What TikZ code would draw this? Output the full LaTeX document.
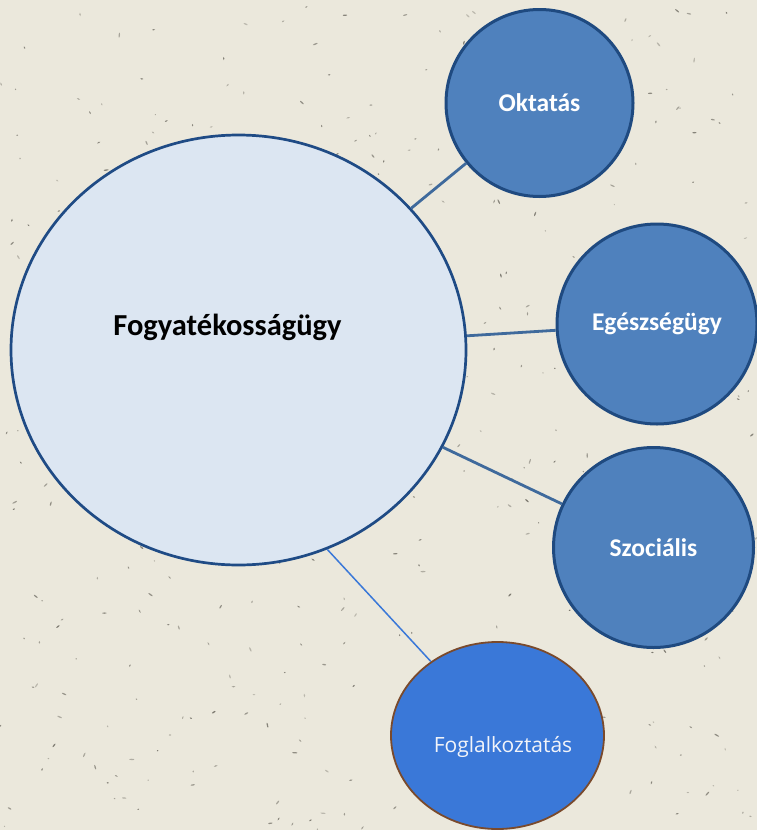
\documentclass[tikz,border=0pt]{standalone}
\usepackage{fontspec}
\setmainfont{Carlito}
\newfontfamily\fogfont{Open Sans}
\usetikzlibrary{shapes.geometric}
\definecolor{bg}{HTML}{EBE8DC}
\definecolor{bigfill}{HTML}{DCE6F2}
\definecolor{bigline}{HTML}{1F4B85}
\definecolor{smallfill}{HTML}{4F81BD}
\definecolor{smallline}{HTML}{1F4A80}
\definecolor{conn}{HTML}{3F6A9C}
\definecolor{fogfill}{HTML}{3A78D8}
\definecolor{fogline}{HTML}{7A4A2C}
\definecolor{foglink}{HTML}{3A78D8}
\definecolor{fogtext}{HTML}{F2F4F9}
\definecolor{speck}{HTML}{6E6B62}
\tikzset{
  bigcirc/.style={ellipse, draw=bigline, fill=bigfill, line width=2.7pt, inner sep=0pt, minimum width=455pt, minimum height=430pt},
  smallcirc/.style={circle, draw=smallline, fill=smallfill, line width=3pt, inner sep=0pt, minimum size=#1, text=white, font=\fontsize{25.5}{28}\selectfont\bfseries},
  fogcirc/.style={ellipse, draw=fogline, fill=fogfill, line width=1.8pt, inner sep=0pt, minimum width=213pt, minimum height=187pt},
  link/.style={draw=conn, line width=2.8pt},
  thinlink/.style={draw=foglink, line width=1.5pt},
  bigtext/.style={font=\fontsize{30.5}{34}\selectfont\bfseries, text=black},
  fogtxt/.style={font=\fogfont\fontsize{21}{24}\selectfont, text=fogtext}
}
\begin{document}
\begin{tikzpicture}[x=1pt,y=-1pt]
\useasboundingbox (0,0) rectangle (757,830);
\clip (0,0) rectangle (757,830);
\fill[bg] (0,0) rectangle (757,830);
\pgfmathsetseed{11}
\foreach \i in {1,...,450}{
  \pgfmathsetmacro{\px}{rnd*757}
  \pgfmathsetmacro{\py}{rnd*830}
  \pgfmathsetmacro{\rot}{rnd*180}
  \pgfmathsetmacro{\len}{0.7+rnd*2.0}
  \pgfmathsetmacro{\op}{0.35+rnd*0.55}
  \fill[speck, opacity=\op, rotate around={\rot:(\px,\py)}] (\px,\py) ellipse ({\len pt} and {0.7pt});
}
\node[bigcirc] (fog) at (238.5,350) {};
\node[smallcirc=187pt] (okt) at (539.5,103) {Oktatás};
\node[smallcirc=200pt] (egs) at (657,324) {Egészségügy};
\node[smallcirc=200pt] (szo) at (653.5,547.5) {Szociális};
\node[fogcirc] (fogl) at (497.5,735.5) {};
\node[bigtext] (fogt) at (227.5,327) {Fogyatékosságügy};
\node[fogtxt] (foglt) at (503,747) {Foglalkoztatás};
\draw[link] (fog) -- (okt);
\draw[link] (fog) -- (egs);
\draw[link] (fog) -- (szo);
\draw[thinlink] (fog.-66) -- (fogl.132.7);
\end{tikzpicture}
\end{document}
